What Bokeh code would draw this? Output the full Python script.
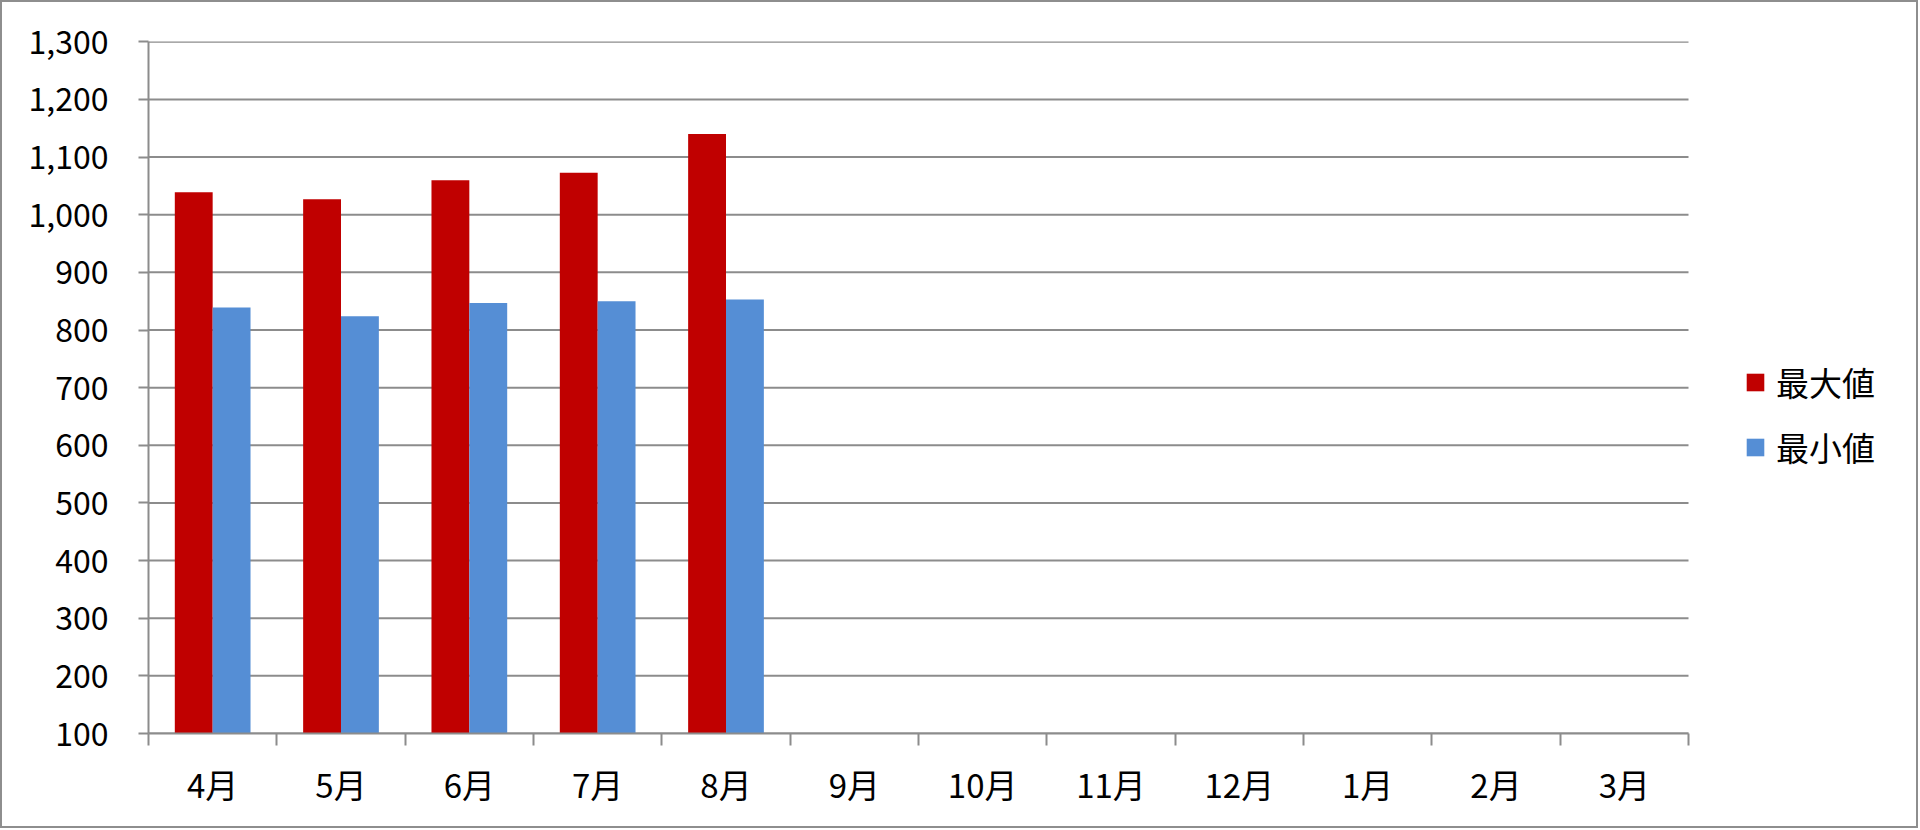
from bokeh.plotting import figure
from bokeh.models import FixedTicker, NumeralTickFormatter, Range1d, Legend, LegendItem, ColumnDataSource
from bokeh.embed import file_html
from bokeh.resources import INLINE
import numpy as np

months = ["4月", "5月", "6月", "7月", "8月", "9月", "10月", "11月", "12月", "1月", "2月", "3月"]
max_vals = [1039, 1027, 1060, 1073, 1140, None, None, None, None, None, None, None]
min_vals = [839, 824, 847, 850, 853, None, None, None, None, None, None, None]
y_ticks = [100, 200, 300, 400, 500, 600, 700, 800, 900, 1000, 1100, 1200, 1300]
series_names = ["最大値", "最小値"]
colors = ["#C00000", "#558ED5"]

FONT = "Noto Sans CJK JP"
GRID = "#8c8c8c"

n = len(months)
idx = np.arange(n)
centers = idx + 0.5
bar_w = 0.295

# frame spans to right edge; categories occupy first 1540px of 1768px frame
frame_w = 1768
frame_h = 692
cat_px = 1540 / n
x_end = frame_w / cat_px

def clean(v):
    return [np.nan if x is None else x for x in v]

src = ColumnDataSource(dict(
    xr=centers - bar_w / 2,
    xb=centers + bar_w / 2,
    mx=clean(max_vals),
    mn=clean(min_vals),
))

p = figure(width=1918, height=828, frame_width=frame_w, frame_height=frame_h,
           output_backend="svg", toolbar_location=None,
           x_range=Range1d(0, x_end), y_range=Range1d(100, 1300.5),
           min_border_left=146, min_border_right=0, min_border_top=39, min_border_bottom=93,
           background_fill_color="white", border_fill_color="white")
p.styles = {"border": "2px solid #8e8e8e"}
p.outline_line_color = None
p.xgrid.grid_line_color = None
p.ygrid.grid_line_color = None

# horizontal gridlines limited to the category span
p.segment(x0=[0] * len(y_ticks), x1=[n] * len(y_ticks), y0=y_ticks, y1=y_ticks,
          line_color=GRID, line_width=2)

r1 = p.vbar(x="xr", top="mx", bottom=100, width=bar_w, source=src, fill_color=colors[0], line_color=None)
r2 = p.vbar(x="xb", top="mn", bottom=100, width=bar_w, source=src, fill_color=colors[1], line_color=None)

# y axis
p.yaxis.ticker = FixedTicker(ticks=y_ticks)
p.yaxis.formatter = NumeralTickFormatter(format="0,0")
p.yaxis.axis_line_color = GRID
p.yaxis.axis_line_width = 2
p.yaxis.major_tick_line_color = GRID
p.yaxis.major_tick_line_width = 2
p.yaxis.major_tick_out = 10
p.yaxis.major_tick_in = 0
p.yaxis.minor_tick_line_color = None
p.yaxis.major_label_standoff = 30
p.yaxis.major_label_text_font = FONT
p.yaxis.major_label_text_font_size = "32px"
p.yaxis.major_label_text_color = "black"
p.yaxis.bounds = (100, 1300)

# x axis
p.xaxis.ticker = FixedTicker(ticks=list(centers), minor_ticks=list(range(n + 1)))
p.xaxis.major_label_overrides = {float(c): m for c, m in zip(centers, months)}
p.xaxis.bounds = (0, n)
p.xaxis.axis_line_color = GRID
p.xaxis.axis_line_width = 2
p.xaxis.major_tick_line_color = None
p.xaxis.major_tick_out = 0
p.xaxis.major_tick_in = 0
p.xaxis.minor_tick_line_color = GRID
p.xaxis.minor_tick_line_width = 2
p.xaxis.minor_tick_out = 12
p.xaxis.minor_tick_in = 0
p.xaxis.major_label_standoff = 14
p.xaxis.major_label_text_font = FONT
p.xaxis.major_label_text_font_size = "33px"
p.xaxis.major_label_text_color = "black"

legend = Legend(items=[LegendItem(label=series_names[0], renderers=[r1]),
                       LegendItem(label=series_names[1], renderers=[r2])],
                location=(1596, 262), padding=0, margin=0, spacing=17, border_line_color=None,
                background_fill_alpha=0, glyph_width=22, glyph_height=22, label_height=34,
                label_standoff=10, label_text_font=FONT, label_text_font_size="33px",
                label_text_color="black")
p.add_layout(legend, "center")

open("out.html", "w").write(file_html(p, INLINE))
